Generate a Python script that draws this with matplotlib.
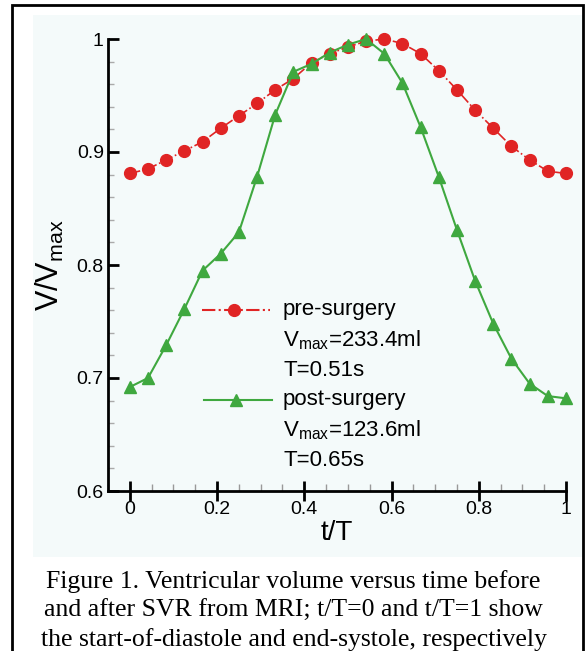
import matplotlib
matplotlib.use('Agg')
import matplotlib.pyplot as plt
from matplotlib.patches import Rectangle
from matplotlib.lines import Line2D
from matplotlib.ticker import MultipleLocator

## data (t/T = i/24)
t = [i / 24 for i in range(25)]
pre_surgery = [0.881, 0.885, 0.893, 0.901, 0.909, 0.921, 0.932, 0.943, 0.955,
               0.965, 0.979, 0.987, 0.993, 0.998, 1.000, 0.996, 0.987, 0.972,
               0.955, 0.937, 0.921, 0.905, 0.893, 0.883, 0.881]
post_surgery = [0.692, 0.700, 0.729, 0.761, 0.795, 0.810, 0.829, 0.878, 0.933,
                0.971, 0.978, 0.988, 0.995, 1.000, 0.987, 0.961, 0.922, 0.878,
                0.831, 0.786, 0.748, 0.717, 0.695, 0.684, 0.682]
pre_label = ['pre-surgery', 'V$_{max}$=233.4ml', 'T=0.51s']
post_label = ['post-surgery', 'V$_{max}$=123.6ml', 'T=0.65s']
caption = ['Figure 1. Ventricular volume versus time before',
           'and after SVR from MRI; t/T=0 and t/T=1 show',
           'the start-of-diastole and end-systole, respectively']

plt.rcParams['font.family'] = ['Liberation Sans', 'DejaVu Sans']
plt.rcParams['mathtext.default'] = 'regular'

red = '#e02424'
green = '#3fa83f'

W, H = 587, 651
fig = plt.figure(figsize=(W / 100, H / 100), dpi=100)

# outer frame and the light chart background
fig.patches.append(Rectangle((33 / W, 1 - 557 / H), (583 - 33) / W, (557 - 15) / H,
                             transform=fig.transFigure, facecolor='#f4fafa',
                             edgecolor='none', zorder=-5))
fig.patches.append(Rectangle((12 / W, -0.05), (583 - 12) / W, 1.05 - 5 / H,
                             transform=fig.transFigure, facecolor='none',
                             edgecolor='black', linewidth=2, zorder=5))

ax = fig.add_axes([108 / W, 1 - 491 / H, (566 - 108) / W, (491 - 39) / H])
ax.patch.set_alpha(0)
ax.set_zorder(2)

ax.plot(t, pre_surgery, color=red, linestyle='-.', linewidth=1.2, marker='o',
        markersize=8.5, markeredgecolor=red, clip_on=False, zorder=3)
ax.plot(t, post_surgery, color=green, linestyle='-', linewidth=1.5, marker='^',
        markersize=8, markeredgecolor=green, clip_on=False, zorder=4)

ax.set_xlim(-0.05, 1.0)
ax.set_ylim(0.6, 1.0)
ax.spines['top'].set_visible(False)
ax.spines['right'].set_visible(False)
ax.spines['left'].set_linewidth(2)
ax.spines['bottom'].set_linewidth(2)

ax.xaxis.set_minor_locator(MultipleLocator(0.05))
ax.yaxis.set_minor_locator(MultipleLocator(0.02))
ax.set_xticks([0, 0.2, 0.4, 0.6, 0.8, 1.0])
ax.set_xticklabels(['0', '0.2', '0.4', '0.6', '0.8', '1'])
ax.set_yticks([0.6, 0.7, 0.8, 0.9, 1.0])
ax.set_yticklabels(['0.6', '0.7', '0.8', '0.9', '1'])
ax.tick_params(axis='x', which='major', direction='inout', length=14, width=2,
               labelsize=14, pad=0)
ax.tick_params(axis='x', which='minor', direction='in', length=5, width=1,
               color='#999999')
ax.tick_params(axis='y', which='major', direction='in', length=8, width=2,
               labelsize=14, pad=3)
ax.tick_params(axis='y', which='minor', direction='in', length=4, width=1,
               color='#aaaaaa')

ax.set_xlabel('t/T', fontsize=20, labelpad=2)
ax.set_ylabel('V/V$_{max}$', fontsize=22, labelpad=8)

## legend drawn by hand so the sample sits on the first text line
def legend_entry(x0, x1, y, color, ls, mk, lines, dy):
    ax.add_line(Line2D([x0, x1], [y, y], transform=ax.transAxes, color=color,
                       linestyle=ls, linewidth=1.5, clip_on=False))
    ax.add_line(Line2D([(x0 + x1) / 2 - 0.005], [y], transform=ax.transAxes,
                       color=color, marker=mk, markersize=8.5, clip_on=False))
    for k, s in enumerate(lines):
        ax.text((283 - 108) / 458, y - k * dy, s, transform=ax.transAxes,
                fontsize=16, va='center', ha='left')

dy = 30 / 452
legend_entry((202 - 108) / 458, (270 - 108) / 458, (491 - 310) / 452, red, '-.', 'o',
             pre_label, dy)
legend_entry((204 - 108) / 458, (272 - 108) / 458, (491 - 400) / 452, green, '-', '^',
             post_label, dy)

for k, s in enumerate(caption):
    fig.text(0.5, 1 - (582 + k * 29) / H, s, family='Liberation Serif', fontsize=18.5,
             ha='center', va='center')

fig.savefig('out.png', dpi=100)
